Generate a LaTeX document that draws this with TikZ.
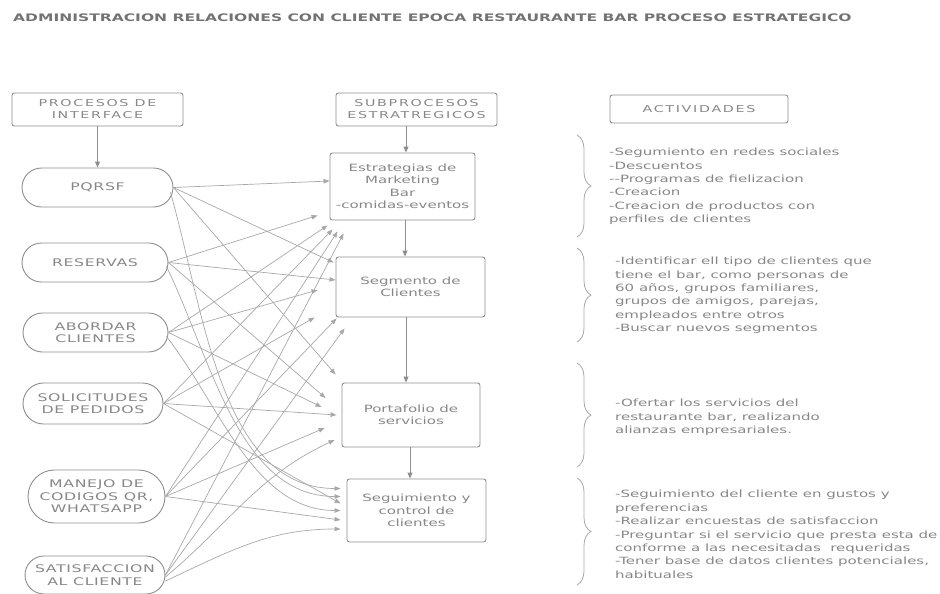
\documentclass[tikz,border=0pt]{standalone}
\usepackage{fontspec}
\setmainfont{DejaVu Sans}[FakeStretch=1.5]
\newfontfamily\spacedfont{DejaVu Sans}[FakeStretch=1.5,LetterSpace=6]
\newfontfamily\headfont{DejaVu Sans}[FakeStretch=1.5,LetterSpace=18]
\usetikzlibrary{arrows.meta,shapes.misc,calc,decorations.pathreplacing}

\definecolor{txt}{HTML}{878787}
\definecolor{titlegray}{HTML}{737373}
\definecolor{edge}{HTML}{8E8E8E}
\definecolor{wire}{HTML}{A8A8A8}

\begin{document}
\begin{tikzpicture}[x=1pt,y=-1pt,
  box/.style={draw=edge,line width=0.9pt,rounded corners=2.5pt,text=txt,align=center,inner sep=0pt},
  head/.style={box,font=\headfont\fontsize{9.5}{12}\selectfont},
  sub/.style={box,font=\fontsize{10}{12.5}\selectfont},
  pill/.style={draw=edge,line width=0.9pt,rounded rectangle,text=txt,align=center,inner sep=0pt,
    font=\spacedfont\fontsize{10.5}{12.5}\selectfont},
  act/.style={anchor=north west,inner sep=0pt,align=left,text=txt,font=\fontsize{10}{13.4}\selectfont},
  link/.style={draw=wire,line width=0.7pt,-{Triangle[length=6pt,width=4.5pt]}},
  flow/.style={draw=edge,line width=0.9pt,-{Triangle[length=6pt,width=5pt]}},
  curly/.style={draw=wire,line width=0.8pt,decorate,decoration={brace,amplitude=14pt}}]

\useasboundingbox (0,0) rectangle (940,594);

% title
\node[anchor=west,inner sep=0pt,text=titlegray,font=\bfseries\fontsize{10.35}{12}\selectfont]
  (title) at (13,18) {ADMINISTRACION RELACIONES CON CLIENTE EPOCA RESTAURANTE BAR PROCESO ESTRATEGICO};

% column headers
\node[head,minimum width=171pt,minimum height=33pt] (proc) at (97.5,109.5) {PROCESOS DE\\INTERFACE};
\node[head,minimum width=161pt,minimum height=33pt] (subp) at (416.5,109.5) {SUBPROCESOS\\ESTRATREGICOS};
\node[head,minimum width=178pt,minimum height=28pt] (actv) at (699,109) {ACTIVIDADES};

% interface processes
\node[pill,minimum width=151pt,minimum height=39pt] (pq) at (97.5,187.5) {PQRSF};
\node[pill,minimum width=146pt,minimum height=39pt] (res) at (95,262.5) {RESERVAS};
\node[pill,minimum width=145pt,minimum height=39pt] (ab) at (95.5,332.5) {ABORDAR\\CLIENTES};
\node[pill,minimum width=140pt,minimum height=41pt] (so) at (93,403.5) {SOLICITUDES\\DE PEDIDOS};
\node[pill,minimum width=137pt,minimum height=53pt] (ma) at (96.5,496.5) {MANEJO DE\\CODIGOS QR,\\WHATSAPP};
\node[pill,minimum width=140pt,minimum height=38pt] (sa) at (95,575) {SATISFACCION\\AL CLIENTE};

% strategic subprocesses
\node[sub,minimum width=145pt,minimum height=67pt] (estr) at (402.5,186.5) {Estrategias de\\Marketing\\Bar\\-comidas-eventos};
\node[sub,minimum width=149pt,minimum height=60pt] (seg) at (410.5,287) {Segmento de\\Clientes};
\node[sub,minimum width=138pt,minimum height=64pt] (port) at (411,415) {Portafolio de\\servicios};
\node[sub,minimum width=139pt,minimum height=63pt] (segu) at (416.5,510.5) {Seguimiento y\\control de\\clientes};

% main flow
\draw[flow] (proc.south) -- (pq.north);
\draw[flow] ([xshift=-10.5pt]subp.south) -- ([xshift=-10.5pt]subp.south |- estr.north);
\draw[flow] ([xshift=2.5pt]estr.south) -- ([xshift=2.5pt]estr.south |- seg.north);
\draw[flow] ([xshift=-4.5pt]seg.south) -- ([xshift=-4.5pt]seg.south |- port.north);
\draw[flow] ([xshift=-1pt]port.south) -- ([xshift=-1pt]port.south |- segu.north);

% PQRSF
\draw[link] (pq.east) -- ($(estr.west)+(0,-5.5)$);
\draw[link] (pq.east) -- ($(seg.north west)+(-2,6)$);
\draw[link] (pq.east) -- ($(port.north west)+(-6,-8)$);
\draw[link] ($(pq.east)+(-3,5)$) to[out=-74,in=180,looseness=0.9] ($(segu.west)+(-6,-22)$);
% RESERVAS
\draw[link] (res.east) -- ($(estr.south west)+(-12,-5)$);
\draw[link] (res.east) -- ($(seg.west)+(0,-7)$);
\draw[link] (res.east) -- ($(port.west)+(-16,-17)$);
\draw[link] ($(res.east)+(-2,4)$) to[out=-64,in=180,looseness=0.9] ($(segu.west)+(-6,-14)$);
% ABORDAR CLIENTES
\draw[link] (ab.east) -- ($(estr.south west)+(-2,5)$);
\draw[link] (ab.east) -- ($(seg.west)+(-18,3)$);
\draw[link] (ab.east) -- ($(port.west)+(-20,-8)$);
\draw[link] ($(ab.east)+(-2,4)$) to[out=-52,in=180,looseness=0.9] ($(segu.west)+(-6,0)$);
% SOLICITUDES DE PEDIDOS
\draw[link] (so.east) -- ($(estr.south west)+(3,9)$);
\draw[link] (so.east) -- ($(seg.south west)+(-21,0)$);
\draw[link] (so.east) -- ($(port.west)+(-5,0)$);
\draw[link] (so.east) -- ($(segu.west)+(-6,-7)$);
% MANEJO DE CODIGOS QR, WHATSAPP
\draw[link] (ma.east) -- ($(estr.south west)+(8,11)$);
\draw[link] (ma.east) -- ($(seg.south west)+(1,1)$);
\draw[link] (ma.east) -- ($(port.west)+(-17,13)$);
\draw[link] (ma.east) -- ($(segu.west)+(-6,9.5)$);
% SATISFACCION AL CLIENTE
\draw[link] (sa.east) -- ($(estr.south west)+(14,13)$);
\draw[link] (sa.east) -- ($(seg.south west)+(9,11)$);
\draw[link] ($(sa.east)+(0,2)$) to[out=40,in=205] ($(port.west)+(-7,25)$);
\draw[link] ($(sa.east)+(0,6)$) to[out=25,in=180] ($(segu.west)+(-6,18.5)$);

% activity braces
\draw[curly] (577,135) coordinate (b1t) -- (577,237) coordinate (b1b);
\draw[curly] (577,248) coordinate (b2t) -- (577,342) coordinate (b2b);
\draw[curly] (577,363) coordinate (b3t) -- (577,467) coordinate (b3b);
\draw[curly] (577,478) coordinate (b4t) -- (577,585) coordinate (b4b);

% activities
\node[act] (a1) at (609,148) {-Segumiento en redes sociales\\-Descuentos\\-{}-Programas de fielizacion\\-Creacion\\-Creacion de productos con\\perfiles de clientes};
\node[act] (a2) at (615,257) {-Identificar ell tipo de clientes que\\tiene el bar, como personas de\\60 años, grupos familiares,\\grupos de amigos, parejas,\\empleados entre otros\\-Buscar nuevos segmentos};
\node[act] (a3) at (615,399) {-Ofertar los servicios del\\restaurante bar, realizando\\alianzas empresariales.};
\node[act] (a4) at (615,490) {-Seguimiento del cliente en gustos y\\preferencias\\-Realizar encuestas de satisfaccion\\-Preguntar si el servicio que presta esta de\\conforme a las necesitadas\ \ requeridas\\-Tener base de datos clientes potenciales,\\habituales};
\end{tikzpicture}
\end{document}
